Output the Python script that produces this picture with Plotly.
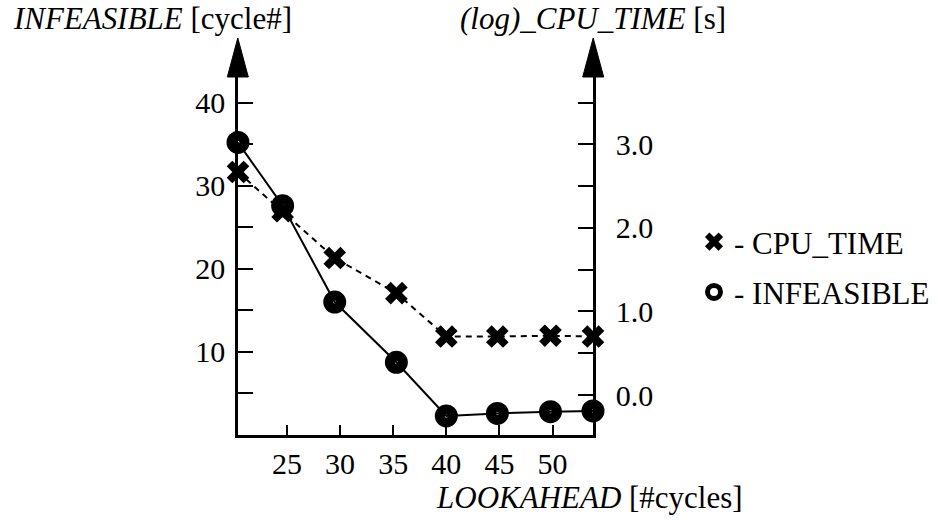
import plotly.graph_objects as go

# ---- data ----
lookahead = [20.4, 24.6, 29.5, 35.3, 40.0, 44.8, 49.8, 53.8]
infeasible = [35.2, 27.6, 16.0, 8.75, 2.3, 2.6, 2.8, 2.9]
cpu_time_log = [2.67, 2.20, 1.64, 1.22, 0.70, 0.70, 0.71, 0.70]

x_tickvals = [25, 30, 35, 40, 45, 50]
x_ticktext = ["25", "30", "35", "40", "45", "50"]
y1_tickvals = [5, 10, 15, 20, 25, 30, 35, 40]
y1_ticktext = ["", "10", "", "20", "", "30", "", "40"]
y2_tickvals = [0.0, 0.5, 1.0, 1.5, 2.0, 2.5, 3.0, 3.5]
y2_ticktext = ["0.0", "", "1.0", "", "2.0", "", "3.0", ""]

FONT = "Liberation Serif"
BLACK = "black"

fig = go.Figure()

# CPU_TIME (right axis), dashed line with bold crosses
fig.add_trace(go.Scatter(
    x=lookahead, y=cpu_time_log, yaxis="y2", mode="lines+markers",
    line=dict(color=BLACK, width=2, dash="6px,5px"),
    marker=dict(symbol="x", size=20, color=BLACK, line=dict(width=0)),
    showlegend=False, cliponaxis=False))

# INFEASIBLE (left axis), solid line with thick rings
fig.add_trace(go.Scatter(
    x=lookahead, y=infeasible, mode="lines+markers",
    line=dict(color=BLACK, width=2),
    marker=dict(symbol="circle-open", size=13, color=BLACK, line=dict(width=10, color=BLACK)),
    showlegend=False, cliponaxis=False))

# legend entries
fig.add_trace(go.Scatter(
    x=[None], y=[None], mode="markers", name="- CPU_TIME", legendgroup="a",
    marker=dict(symbol="x", size=16, color=BLACK, line=dict(width=0))))
fig.add_trace(go.Scatter(
    x=[None], y=[None], mode="markers", name="- INFEASIBLE", legendgroup="b",
    marker=dict(symbol="circle-open", size=13, color=BLACK, line=dict(width=5, color=BLACK))))

L, R, T, B = 238, 593, 77, 435
W, H = 938, 520
pw, ph = R - L, B - T

def px(xp):
    return (xp - L) / pw

def py(yp):
    return (B - yp) / ph

arrow_shapes = []
for cx in (237.8, 593.2):
    path = "M {},{} L {},{} L {},{} Z".format(
        px(cx - 10.5), py(77), px(cx + 10.5), py(77), px(cx), py(38))
    arrow_shapes.append(dict(type="path", xref="paper", yref="paper", path=path,
                             fillcolor=BLACK, line=dict(color=BLACK, width=1)))

fig.update_layout(
    width=W, height=H,
    margin=dict(l=L, r=W - R, t=T, b=H - B, pad=0, autoexpand=False),
    paper_bgcolor="white", plot_bgcolor="white",
    font=dict(family=FONT, size=30, color=BLACK),
    xaxis=dict(range=[20.4, 53.8], tickvals=x_tickvals, ticktext=x_ticktext,
               ticks="inside", ticklen=10, tickwidth=2, tickcolor=BLACK,
               showline=True, linewidth=2.5, linecolor=BLACK, showgrid=False,
               zeroline=False, ticklabelstandoff=0, tickfont=dict(size=30)),
    yaxis=dict(range=[0, 43.08], tickvals=y1_tickvals, ticktext=y1_ticktext,
               ticks="inside", ticklen=15, tickwidth=2, tickcolor=BLACK,
               showline=True, linewidth=2.5, linecolor=BLACK, showgrid=False,
               zeroline=False, ticklabelstandoff=4, tickfont=dict(size=30)),
    yaxis2=dict(range=[-0.479, 3.808], tickvals=y2_tickvals, ticktext=y2_ticktext,
                overlaying="y", side="right",
                ticks="inside", ticklen=15, tickwidth=2, tickcolor=BLACK,
                showline=True, linewidth=2.5, linecolor=BLACK, showgrid=False,
                zeroline=False, ticklabelstandoff=14, tickfont=dict(size=30)),
    legend=dict(x=px(694), y=py(215), xanchor="left", yanchor="top",
                font=dict(family=FONT, size=31, color=BLACK),
                bgcolor="rgba(0,0,0,0)", tracegroupgap=7, itemsizing="trace"),
    shapes=arrow_shapes,
    annotations=[
        dict(text="<i>INFEASIBLE</i> [cycle#]", xref="paper", yref="paper",
             x=px(294), y=py(18), xanchor="right", yanchor="middle",
             showarrow=False, font=dict(size=31)),
        dict(text="<i>(log)_CPU_TIME</i> [s]", xref="paper", yref="paper",
             x=px(593), y=py(18), xanchor="center", yanchor="middle",
             showarrow=False, font=dict(size=31)),
        dict(text="<i>LOOKAHEAD</i> [#cycles]", xref="paper", yref="paper",
             x=px(589), y=py(497), xanchor="center", yanchor="middle",
             showarrow=False, font=dict(size=31)),
    ],
)

fig.write_html("out.html", config={"displayModeBar": False},
               post_script="document.body.style.margin='0';")
